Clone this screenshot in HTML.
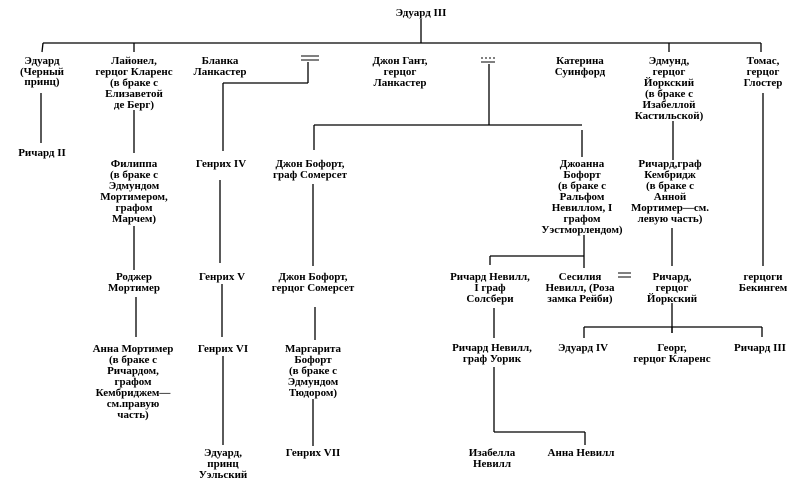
<!DOCTYPE html>
<html><head><meta charset="utf-8"><style>
html,body{margin:0;padding:0;background:#fff;}
svg{display:block}
text{font-family:"Liberation Serif","DejaVu Serif",serif;font-weight:bold;font-size:11px;fill:#000;text-anchor:middle}
line{stroke:#000;stroke-width:1.3}
</style></head><body>
<svg width="800" height="483" viewBox="0 0 800 483" xmlns="http://www.w3.org/2000/svg">
<line x1="421" y1="19" x2="421" y2="43"/>
<line x1="43" y1="43" x2="761" y2="43"/>
<line x1="43" y1="43" x2="42" y2="52"/>
<line x1="134" y1="43" x2="134" y2="52"/>
<line x1="669" y1="43" x2="669" y2="52"/>
<line x1="761" y1="43" x2="761" y2="52"/>
<line x1="41" y1="93" x2="41" y2="143"/>
<line x1="134" y1="110" x2="134" y2="153"/>
<line x1="134" y1="226" x2="134" y2="270"/>
<line x1="136" y1="297" x2="136" y2="337"/>
<line x1="308" y1="62" x2="308" y2="83"/>
<line x1="223" y1="83" x2="308" y2="83"/>
<line x1="223" y1="83" x2="223" y2="151"/>
<line x1="220" y1="180" x2="220" y2="263"/>
<line x1="222" y1="284" x2="222" y2="337"/>
<line x1="223" y1="356" x2="223" y2="445"/>
<line x1="489" y1="64" x2="489" y2="125"/>
<line x1="314" y1="125" x2="582" y2="125"/>
<line x1="314" y1="125" x2="314" y2="150"/>
<line x1="582" y1="130" x2="582" y2="157"/>
<line x1="313" y1="184" x2="313" y2="266"/>
<line x1="315" y1="307" x2="315" y2="340"/>
<line x1="313" y1="399" x2="313" y2="446"/>
<line x1="673" y1="121" x2="673" y2="160"/>
<line x1="672" y1="228" x2="672" y2="266"/>
<line x1="763" y1="93" x2="763" y2="266"/>
<line x1="584" y1="235" x2="584" y2="268"/>
<line x1="490" y1="256" x2="584" y2="256"/>
<line x1="490" y1="256" x2="490" y2="265"/>
<line x1="672" y1="303" x2="672" y2="333"/>
<line x1="584" y1="327" x2="762" y2="327"/>
<line x1="584" y1="327" x2="584" y2="338"/>
<line x1="672" y1="327" x2="672" y2="333"/>
<line x1="762" y1="327" x2="762" y2="337"/>
<line x1="494" y1="308" x2="494" y2="338"/>
<line x1="494" y1="367" x2="494" y2="432"/>
<line x1="494" y1="432" x2="585" y2="432"/>
<line x1="585" y1="432" x2="585" y2="445"/>
<line x1="301" y1="56" x2="319" y2="56" style="stroke-width:1"/>
<line x1="301" y1="60" x2="319" y2="60" style="stroke-width:1"/>
<line x1="481" y1="58" x2="495" y2="58" style="stroke-width:1;stroke-dasharray:2 2"/>
<line x1="481" y1="62" x2="495" y2="62" style="stroke-width:1"/>
<line x1="618" y1="273" x2="631" y2="273" style="stroke-width:1"/>
<line x1="618" y1="277" x2="631" y2="277" style="stroke-width:1"/>
<text x="421" y="16">Эдуард III</text>
<g>
<text x="42" y="64">Эдуард</text><text x="42" y="75">(Черный</text><text x="42" y="85">принц)</text>
<text x="42" y="156">Ричард II</text>
<text x="134" y="64">Лайонел,</text><text x="134" y="75">герцог Кларенс</text><text x="134" y="86">(в браке с</text><text x="134" y="97">Елизаветой</text><text x="134" y="108">де Берг)</text>
<text x="134" y="167">Филиппа</text><text x="134" y="178">(в браке с</text><text x="134" y="189">Эдмундом</text><text x="134" y="200">Мортимером,</text><text x="134" y="211">графом</text><text x="134" y="222">Марчем)</text>
<text x="134" y="280">Роджер</text><text x="134" y="291">Мортимер</text>
<text x="133" y="352">Анна Мортимер</text><text x="133" y="363">(в браке с</text><text x="133" y="374">Ричардом,</text><text x="133" y="385">графом</text><text x="133" y="396">Кембриджем—</text><text x="133" y="407">см.правую</text><text x="133" y="418">часть)</text>
<text x="220" y="64">Бланка</text><text x="220" y="75">Ланкастер</text>
<text x="221" y="167">Генрих IV</text>
<text x="222" y="280">Генрих V</text>
<text x="223" y="352">Генрих VI</text>
<text x="223" y="456">Эдуард,</text><text x="223" y="467">принц</text><text x="223" y="478">Уэльский</text>
<text x="400" y="64">Джон Гант,</text><text x="400" y="75">герцог</text><text x="400" y="86">Ланкастер</text>
<text x="310" y="167">Джон Бофорт,</text><text x="310" y="178">граф Сомерсет</text>
<text x="313" y="280">Джон Бофорт,</text><text x="313" y="291">герцог Сомерсет</text>
<text x="313" y="352">Маргарита</text><text x="313" y="363">Бофорт</text><text x="313" y="374">(в браке с</text><text x="313" y="385">Эдмундом</text><text x="313" y="396">Тюдором)</text>
<text x="313" y="456">Генрих VII</text>
<text x="580" y="64">Катерина</text><text x="580" y="75">Суинфорд</text>
<text x="669" y="64">Эдмунд,</text><text x="669" y="75">герцог</text><text x="669" y="86">Йоркский</text><text x="669" y="97">(в браке с</text><text x="669" y="108">Изабеллой</text><text x="669" y="119">Кастильской)</text>
<text x="763" y="64">Томас,</text><text x="763" y="75">герцог</text><text x="763" y="86">Глостер</text>
<text x="582" y="167">Джоанна</text><text x="582" y="178">Бофорт</text><text x="582" y="189">(в браке с</text><text x="582" y="200">Ральфом</text><text x="582" y="211">Невиллом, I</text><text x="582" y="222">графом</text><text x="582" y="233">Уэстморлендом)</text>
<text x="670" y="167">Ричард,граф</text><text x="670" y="178">Кембридж</text><text x="670" y="189">(в браке с</text><text x="670" y="200">Анной</text><text x="670" y="211">Мортимер—см.</text><text x="670" y="222">левую часть)</text>
<text x="490" y="280">Ричард Невилл,</text><text x="490" y="291">I граф</text><text x="490" y="302">Солсбери</text>
<text x="580" y="280">Сесилия</text><text x="580" y="291">Невилл, (Роза</text><text x="580" y="302">замка Рейби)</text>
<text x="672" y="280">Ричард,</text><text x="672" y="291">герцог</text><text x="672" y="302">Йоркский</text>
<text x="763" y="280">герцоги</text><text x="763" y="291">Бекингем</text>
<text x="583" y="351">Эдуард IV</text>
<text x="672" y="351">Георг,</text><text x="672" y="362">герцог Кларенс</text>
<text x="760" y="351">Ричард III</text>
<text x="492" y="351">Ричард Невилл,</text><text x="492" y="362">граф Уорик</text>
<text x="492" y="456">Изабелла</text><text x="492" y="467">Невилл</text>
<text x="581" y="456">Анна Невилл</text>
</g>
</svg>
</body></html>
